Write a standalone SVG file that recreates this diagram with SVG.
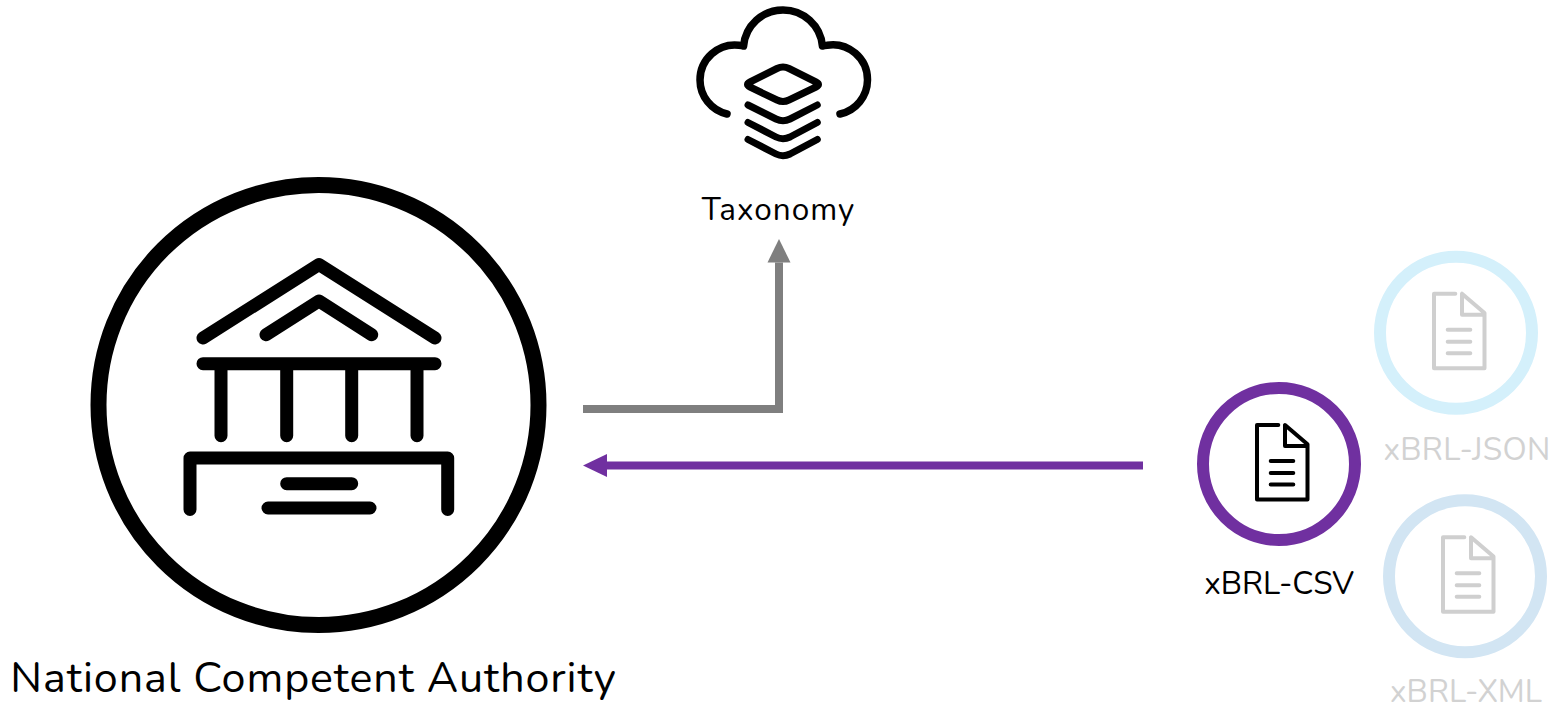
<svg xmlns="http://www.w3.org/2000/svg" width="1554" height="704" viewBox="0 0 1554 704">
<style>
text{font-family:"Nunito","Lato","Noto Sans","Liberation Sans",sans-serif;text-anchor:middle;font-size:31.500px;fill:#000}
.ic{fill:none;stroke:#000;stroke-linecap:round;stroke-linejoin:round}
.doc{fill:none;stroke-width:4;stroke-linecap:round;stroke-linejoin:round}
.t-off{fill:#d2d2d2}
</style>
<defs>
<marker id="ag" markerUnits="userSpaceOnUse" markerWidth="24" markerHeight="24" refX="0" refY="12" orient="auto"><path d="M0 .5L23.500 12L0 23.500Z" fill="#7f7f7f"/></marker>
<marker id="ap" markerUnits="userSpaceOnUse" markerWidth="24" markerHeight="24" refX="0" refY="12" orient="auto"><path d="M0 .5L24 12L0 23.500Z" fill="#7030a0"/></marker>
<g id="docicon"><path d="M-.7-39H-22V35.500H28.500V-19.700L6-39V-18H28M-8.300-3H14.300M-8.300 9H14.300M-8.300 20.500H14.300"/></g>
</defs>
<g id="connectors">
<path d="M583 409H779V262.500" fill="none" stroke="#7f7f7f" stroke-width="8" marker-end="url(#ag)"/>
<path d="M1143 465.500H607" fill="none" stroke="#7030a0" stroke-width="8" marker-end="url(#ap)"/>
</g>
<g id="authority">
<circle cx="318.500" cy="405" r="220" fill="none" stroke="#000" stroke-width="16"/>
<path class="ic" stroke-width="13" d="M203 338L319 264.500L435 338M266 334.700L319 301L371.700 334.700M203 363.700H435M221 364V435.700M286.700 364V435.700M351.700 364V435.700M417 364V435.700M190 509.500V458H447.700V509.500M286.700 483.700H351.700M268 508H370"/>
<text x="313.500" y="692" style="font-size:43px;letter-spacing:.9px">National Competent Authority</text>
</g>
<g id="taxonomy">
<path class="ic" stroke-width="7.500" d="M727 114A35 35 0 0 1 700 80A35 35 0 0 1 739 45.200Q742 45.600 743.600 46A39.500 39.500 0 0 1 783 10A39.500 39.500 0 0 1 822.400 46Q824 45.600 827 45.200A35 35 0 0 1 867.500 80A35 35 0 0 1 840 114"/>
<path class="ic" stroke-width="7" d="M777 68.500Q783 65.500 789 68.500L816 82Q821 84.500 816 87L789 100Q783 103 777 100L750 87Q745 84.500 750 82ZM748 105L776 119Q783 122.500 790 119L817.300 105M748 122.500L776 137Q783 140.500 790 137L817.300 122.500M748 139.500L776 154Q783 157.500 790 154L817.300 139.500"/>
<text x="778.500" y="220" style="letter-spacing:1px">Taxonomy</text>
</g>
<g id="xbrl-csv">
<circle cx="1279" cy="464" r="76" fill="none" stroke="#7030a0" stroke-width="12"/>
<use href="#docicon" x="1279" y="464" class="doc" stroke="#000"/>
<text x="1279" y="594">xBRL-CSV</text>
</g>
<g id="xbrl-json">
<circle cx="1456" cy="332.700" r="76" fill="none" stroke="#d4f0fb" stroke-width="12"/>
<use href="#docicon" x="1456" y="332.700" class="doc" stroke="#cfcfcf"/>
<text x="1467" y="460" class="t-off" style="letter-spacing:.3px">xBRL-JSON</text>
</g>
<g id="xbrl-xml">
<circle cx="1465" cy="576.300" r="76" fill="none" stroke="#d2e5f3" stroke-width="12"/>
<use href="#docicon" x="1465" y="576.300" class="doc" stroke="#cfcfcf"/>
<text x="1466" y="702" class="t-off">xBRL-XML</text>
</g>
</svg>
